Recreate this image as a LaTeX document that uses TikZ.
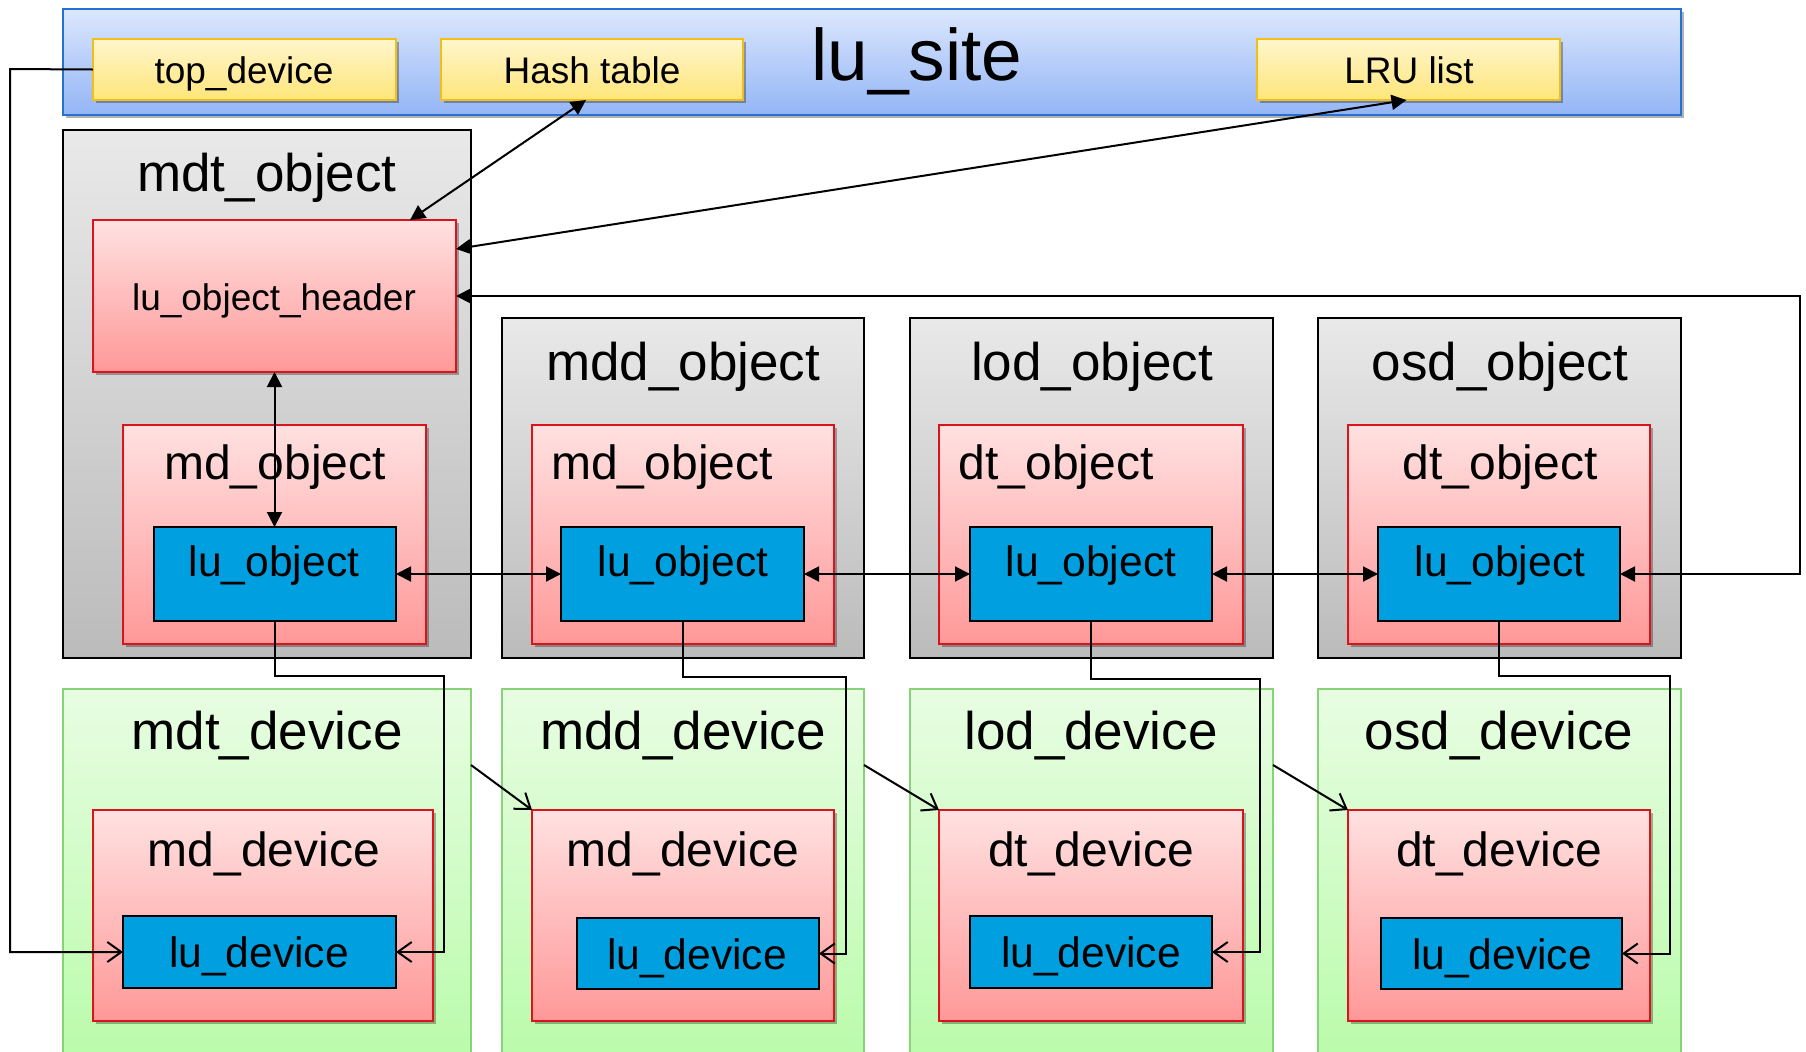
\documentclass[tikz,border=0pt]{standalone}
\usepackage{fontspec}
\setmainfont{Liberation Sans}
\usetikzlibrary{arrows.meta,shadows,calc}

\definecolor{siteTop}{HTML}{DCE7FD}
\definecolor{siteBot}{HTML}{93B5F6}
\definecolor{siteLine}{HTML}{2571D1}
\definecolor{yelTop}{HTML}{FFF6CC}
\definecolor{yelBot}{HTML}{FFE57A}
\definecolor{yelLine}{HTML}{F2BE1A}
\definecolor{grayTop}{HTML}{E9E9E9}
\definecolor{grayBot}{HTML}{BBBBBB}
\definecolor{pinkTop}{HTML}{FFE1E1}
\definecolor{pinkBot}{HTML}{FF9898}
\definecolor{pinkLine}{HTML}{D9141B}
\definecolor{greenTop}{HTML}{E8FDE2}
\definecolor{greenBot}{HTML}{B3FBA3}
\definecolor{greenLine}{HTML}{88D37A}
\definecolor{luBlue}{HTML}{00A0E0}

\newcommand\bx[6]{\node[#1, anchor=north west, minimum width={(#5-#3)*0.5pt}, minimum height={(#6-#4)*0.5pt}] (#2) at (#3,#4) {};}
\newcommand\fsite{\fontsize{36.5pt}{40pt}\selectfont}
\newcommand\fbig{\fontsize{26.5pt}{30pt}\selectfont}
\newcommand\fmid{\fontsize{24pt}{28pt}\selectfont}
\newcommand\flu{\fontsize{21.3pt}{25pt}\selectfont}
\newcommand\fsmall{\fontsize{18.5pt}{22pt}\selectfont}

\tikzset{
  box/.style={rectangle, inner sep=0pt, outer sep=0pt, line width=1pt},
  shad/.style={drop shadow={shadow xshift=1.5pt, shadow yshift=-1.5pt, opacity=0.3, fill=black}},
  sitebox/.style={box, shad, draw=siteLine, top color=siteTop, bottom color=siteBot},
  yelbox/.style={box, shad, draw=yelLine, top color=yelTop, bottom color=yelBot},
  graybox/.style={box, draw=black, top color=grayTop, bottom color=grayBot},
  pinkbox/.style={box, shad, line width=0.7pt, draw=pinkLine, top color=pinkTop, bottom color=pinkBot},
  greenbox/.style={box, line width=0.7pt, draw=greenLine, top color=greenTop, bottom color=greenBot},
  bluebox/.style={box, draw=black, fill=luBlue},
  lbl/.style={anchor=base, inner sep=0pt, text=black},
  conn/.style={line width=1pt, draw=black},
  >={Triangle[length=7.5pt,width=7.5pt]},
  oa/.style={conn, -{Straight Barb[length=7pt,width=10pt]}}
}

\begin{document}
\begin{tikzpicture}[x=0.5pt,y=-0.5pt]
\useasboundingbox (0,0) rectangle (1806,1051);
\clip (0,0) rectangle (1806,1051);
\fill[white] (0,0) rectangle (1806,1051);

% lu_site
\bx{sitebox}{site}{63}{9}{1681}{115}
\bx{yelbox}{top}{93}{39}{396}{100}
\bx{yelbox}{hash}{441}{39}{743}{100}
\bx{yelbox}{lru}{1257}{39}{1560}{100}

% objects
\bx{graybox}{mdto}{63}{130}{471}{658}
\bx{pinkbox}{hdr}{93}{220}{456}{372}
\bx{graybox}{mddo}{502}{318}{864}{658}
\bx{graybox}{lodo}{910}{318}{1273}{658}
\bx{graybox}{osdo}{1318}{318}{1681}{658}
\bx{pinkbox}{mo1}{123}{425}{426}{644}
\bx{pinkbox}{mo2}{532}{425}{834}{644}
\bx{pinkbox}{mo3}{939}{425}{1243}{644}
\bx{pinkbox}{mo4}{1348}{425}{1650}{644}
\bx{bluebox}{lo1}{154}{527}{396}{621}
\bx{bluebox}{lo2}{561}{527}{804}{621}
\bx{bluebox}{lo3}{970}{527}{1212}{621}
\bx{bluebox}{lo4}{1378}{527}{1620}{621}

% devices
\bx{greenbox}{dv1}{63}{689}{471}{1110}
\bx{greenbox}{dv2}{502}{689}{864}{1110}
\bx{greenbox}{dv3}{910}{689}{1273}{1110}
\bx{greenbox}{dv4}{1318}{689}{1681}{1110}
\bx{pinkbox}{md1}{93}{810}{433}{1021}
\bx{pinkbox}{md2}{532}{810}{834}{1021}
\bx{pinkbox}{md3}{939}{810}{1243}{1021}
\bx{pinkbox}{md4}{1348}{810}{1650}{1021}
\bx{bluebox}{ld1}{123}{916}{396}{988}
\bx{bluebox}{ld2}{577}{918}{819}{989}
\bx{bluebox}{ld3}{970}{916}{1212}{988}
\bx{bluebox}{ld4}{1381}{918}{1622}{989}

% labels
\node[lbl, font=\fsite] (tsite) at (917,80) {lu\_site};
\node[lbl, font=\fsmall] (ttop) at (244,83) {top\_device};
\node[lbl, font=\fsmall] (thash) at (592,83) {Hash table};
\node[lbl, font=\fsmall] (tlru) at (1409,83) {LRU list};
\node[lbl, font=\fbig] (tmdto) at (267,191) {mdt\_object};
\node[lbl, font=\fsmall] (thdr) at (274,310) {lu\_object\_header};
\node[lbl, font=\fbig] (tmddo) at (683,380) {mdd\_object};
\node[lbl, font=\fbig] (tlodo) at (1092,380) {lod\_object};
\node[lbl, font=\fbig] (tosdo) at (1500,380) {osd\_object};
\node[lbl, font=\fmid] (tmo1) at (275,479) {md\_object};
\node[lbl, font=\fmid] (tmo2) at (662,479) {md\_object};
\node[lbl, font=\fmid] (tmo3) at (1056,479) {dt\_object};
\node[lbl, font=\fmid] (tmo4) at (1500,479) {dt\_object};
\node[lbl, font=\flu] (tlo1) at (274,576) {lu\_object};
\node[lbl, font=\flu] (tlo2) at (683,576) {lu\_object};
\node[lbl, font=\flu] (tlo3) at (1091,576) {lu\_object};
\node[lbl, font=\flu] (tlo4) at (1500,576) {lu\_object};
\node[lbl, font=\fbig] (tdv1) at (267,749) {mdt\_device};
\node[lbl, font=\fbig] (tdv2) at (683,749) {mdd\_device};
\node[lbl, font=\fbig] (tdv3) at (1091,749) {lod\_device};
\node[lbl, font=\fbig] (tdv4) at (1499,749) {osd\_device};
\node[lbl, font=\fmid] (tmd1) at (264,866) {md\_device};
\node[lbl, font=\fmid] (tmd2) at (683,866) {md\_device};
\node[lbl, font=\fmid] (tmd3) at (1091,866) {dt\_device};
\node[lbl, font=\fmid] (tmd4) at (1499,866) {dt\_device};
\node[lbl, font=\flu] (tld1) at (259,967) {lu\_device};
\node[lbl, font=\flu] (tld2) at (697,969) {lu\_device};
\node[lbl, font=\flu] (tld3) at (1091,967) {lu\_device};
\node[lbl, font=\flu] (tld4) at (1502,969) {lu\_device};

% connectors
\draw[conn, <->] ($(hash.south)+(-6,0)$) -- ($(hdr.north)+(135.5,0)$);
\draw[conn, <->] ($(hdr.east)+(0,-47)$) -- ($(lru.south)+(-2,0)$);
\coordinate (rc) at (1800,296);
\draw[conn, <->] (hdr.east) -- (rc) |- (lo4.east);
\draw[conn, <->] (hdr.south) -- (hdr.south |- lo1.north);
\draw[conn, <->] (lo1.east) -- (lo2.west);
\draw[conn, <->] (lo2.east) -- (lo3.west);
\draw[conn, <->] (lo3.east) -- (lo4.west);

\coordinate (lc) at (10,69);
\draw[oa] (top.west) -- (lc) |- (ld1.west);

\coordinate (c1) at (444,676);
\coordinate (c2) at (846,677);
\coordinate (c3) at (1260,679);
\coordinate (c4) at (1670,676);
\draw[oa] (lo1.south) |- (c1) |- (ld1.east);
\draw[oa] (lo2.south) |- (c2) |- (ld2.east);
\draw[oa] (lo3.south) |- (c3) |- (ld3.east);
\draw[oa] (lo4.south) |- (c4) |- (ld4.east);

\draw[oa] ($(dv1.north east)+(0,76)$) -- (md2.north west);
\draw[oa] ($(dv2.north east)+(0,76)$) -- (md3.north west);
\draw[oa] ($(dv3.north east)+(0,76)$) -- (md4.north west);
\end{tikzpicture}
\end{document}
